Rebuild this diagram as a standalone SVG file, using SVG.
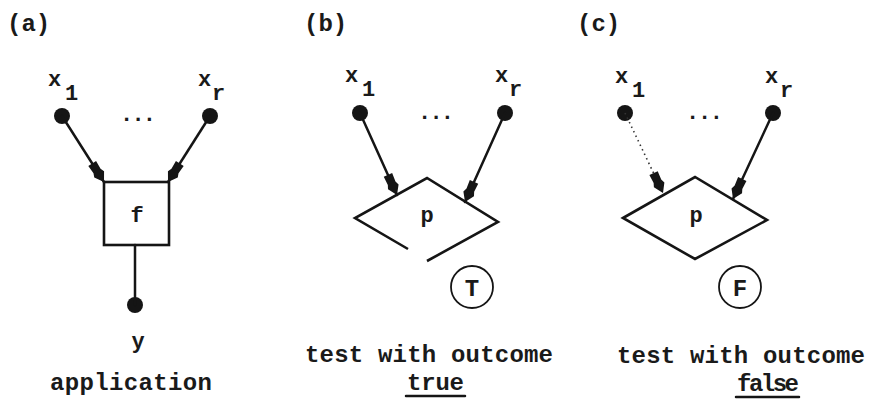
<svg xmlns="http://www.w3.org/2000/svg" width="870" height="399" viewBox="0 0 870 399">
  <style>
    .t { font-family: "Liberation Mono", "DejaVu Sans Mono", monospace; font-weight: bold; fill: #1a1a1a; }
    .lbl { font-size: 22px; }
    .big { font-size: 24px; }
    .edge { stroke: #151515; stroke-width: 2.5; fill: none; stroke-linecap: round; }
    .faint { stroke: #333; stroke-width: 1.6; fill: none; stroke-dasharray: 1.5 3.5; }
    .shape { stroke: #151515; stroke-width: 2.6; fill: #fff; stroke-linejoin: miter; }
    .open { stroke: #151515; stroke-width: 2.6; fill: none; }
    .dot { fill: #151515; }
    .ring { stroke: #151515; stroke-width: 1.8; fill: #fff; }
  </style>
  <defs>
    <!-- chunky hand-drawn style arrowhead, tip on the line end -->
    <marker id="head" markerUnits="userSpaceOnUse" orient="auto" refX="0" refY="0"
            markerWidth="26" markerHeight="14" viewBox="-24 -7 26 14" overflow="visible">
      <path d="M0,0 L-9,-5.8 L-13,-4.2 L-22,-4.6 L-22,4.6 L-13,4.2 L-9,5.8 Z" fill="#151515"/>
    </marker>
  </defs>
  <rect width="870" height="399" fill="#fff"/>

  <!-- panel labels -->
  <text class="t big" x="7" y="31">(a)</text>
  <text class="t big" x="304" y="31">(b)</text>
  <text class="t big" x="577" y="31">(c)</text>

  <!-- (a) application -->
  <g id="a-in-x1">
    <circle class="dot" cx="62" cy="116" r="8"/>
    <text class="t lbl" x="48" y="86">x</text>
    <text class="t lbl" x="65" y="100">1</text>
  </g>
  <g id="a-in-xr">
    <circle class="dot" cx="210" cy="116" r="8"/>
    <text class="t lbl" x="198" y="86">x</text>
    <text class="t lbl" x="212" y="100">r</text>
  </g>
  <text class="t lbl" x="120" y="121" textLength="36">...</text>
  <g id="a-f">
    <rect class="shape" x="104" y="182" width="65" height="63"/>
    <text class="t lbl" x="137" y="222" text-anchor="middle">f</text>
  </g>
  <g id="a-out-y">
    <circle class="dot" cx="135" cy="305" r="8"/>
    <text class="t lbl" x="138" y="348" text-anchor="middle">y</text>
  </g>
  <text class="t big" x="50" y="390" textLength="162">application</text>

  <!-- (b) test, outcome true -->
  <g id="b-in-x1">
    <circle class="dot" cx="360" cy="113" r="8"/>
    <text class="t lbl" x="345" y="82">x</text>
    <text class="t lbl" x="362" y="96">1</text>
  </g>
  <g id="b-in-xr">
    <circle class="dot" cx="505" cy="113" r="8"/>
    <text class="t lbl" x="495" y="82">x</text>
    <text class="t lbl" x="509" y="96">r</text>
  </g>
  <text class="t lbl" x="418" y="119" textLength="36">...</text>
  <g id="b-p">
    <polyline class="open" points="408,249 355,218 427,178 498,222 427,261"/>
    <text class="t lbl" x="427" y="222" text-anchor="middle">p</text>
  </g>
  <g id="b-T">
    <circle class="ring" cx="472" cy="287" r="21"/>
    <text class="t big" x="472" y="296" text-anchor="middle">T</text>
  </g>
  <text class="t big" x="305" y="362" textLength="248">test with outcome</text>
  <text class="t big" x="407" y="390" textLength="57">true</text>

  <!-- (c) test, outcome false -->
  <g id="c-in-x1">
    <circle class="dot" cx="625" cy="113" r="8"/>
    <text class="t lbl" x="615" y="83">x</text>
    <text class="t lbl" x="632" y="97">1</text>
  </g>
  <g id="c-in-xr">
    <circle class="dot" cx="773" cy="113" r="8"/>
    <text class="t lbl" x="765" y="83">x</text>
    <text class="t lbl" x="780" y="97">r</text>
  </g>
  <text class="t lbl" x="686" y="119" textLength="37">...</text>
  <g id="c-p">
    <polygon class="shape" points="623,218 695,177 767,220 695,259"/>
    <text class="t lbl" x="696" y="222" text-anchor="middle">p</text>
  </g>
  <g id="c-F">
    <circle class="ring" cx="740" cy="287" r="21"/>
    <text class="t big" x="740" y="296" text-anchor="middle" font-weight="normal">F</text>
  </g>
  <text class="t big" x="617" y="363" textLength="248">test with outcome</text>
  <text class="t big" x="737" y="391" textLength="62">false</text>

  <!-- connectors -->
  <g id="connectors">
    <line class="edge" x1="62" y1="116" x2="104" y2="182" marker-end="url(#head)"/>
    <line class="edge" x1="210" y1="116" x2="168" y2="182" marker-end="url(#head)"/>
    <line class="edge" x1="135" y1="245" x2="135" y2="305"/>

    <line class="edge" x1="360" y1="113" x2="397" y2="195" marker-end="url(#head)"/>
    <line class="edge" x1="505" y1="113" x2="465" y2="202" marker-end="url(#head)"/>

    <line class="faint" x1="625" y1="113" x2="663" y2="193" marker-end="url(#head)"/>
    <line class="edge" x1="773" y1="113" x2="733" y2="199" marker-end="url(#head)"/>

    <!-- underlines under the outcomes -->
    <line class="edge" x1="406" y1="396" x2="465" y2="396" stroke-linecap="butt"/>
    <line class="edge" x1="736" y1="397" x2="799" y2="397" stroke-linecap="butt"/>
  </g>
</svg>
